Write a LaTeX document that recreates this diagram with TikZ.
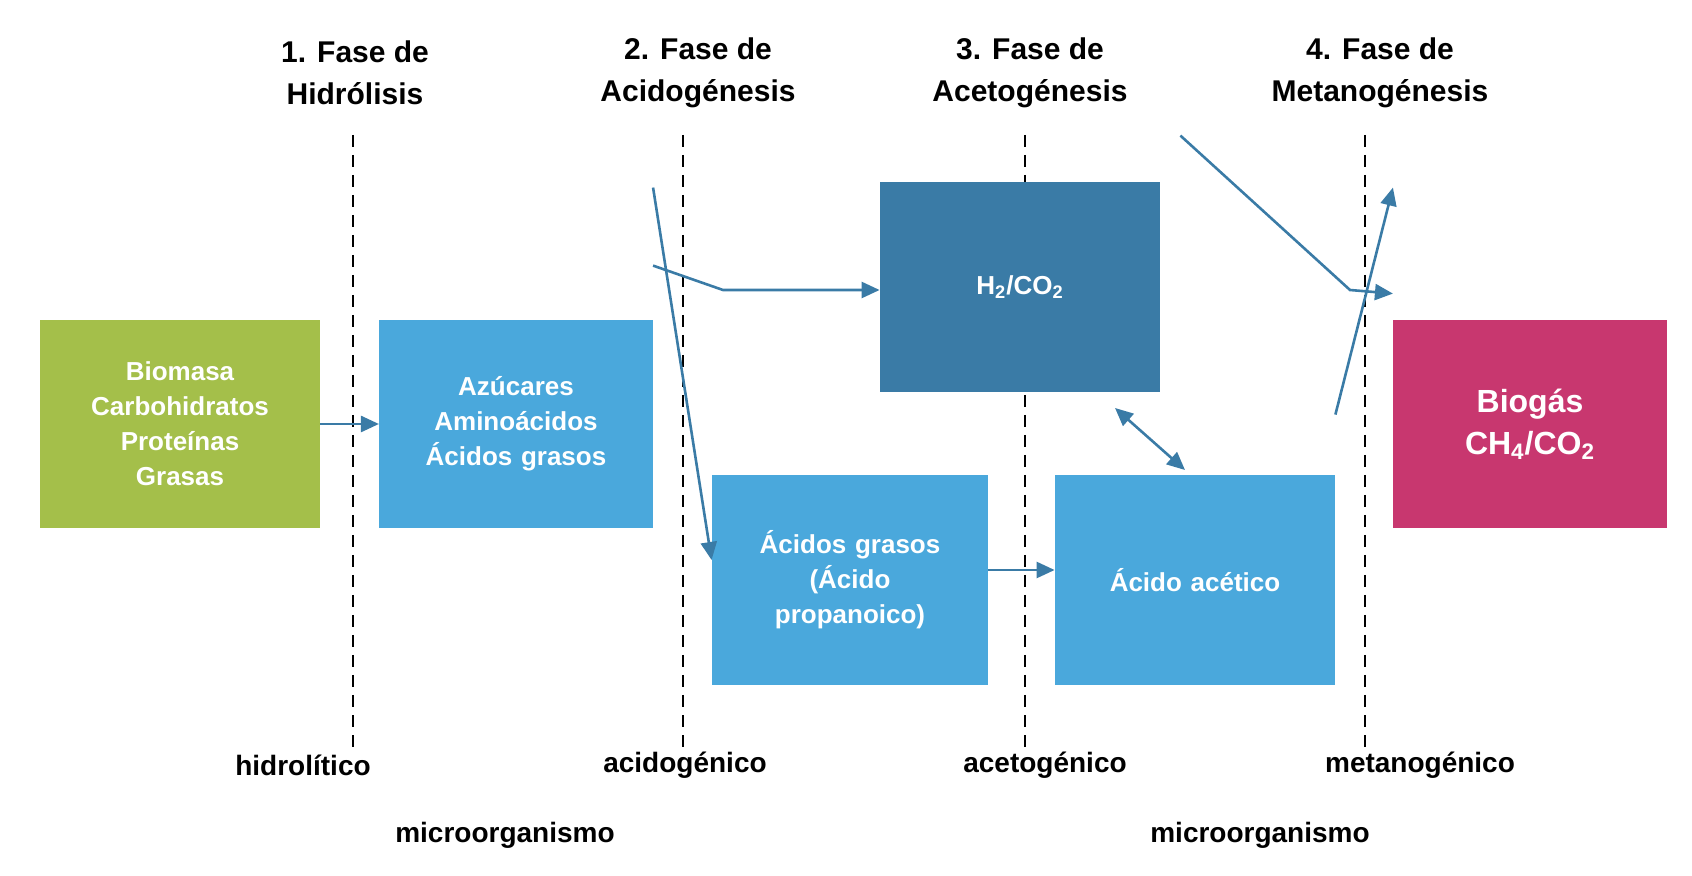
\documentclass[tikz,border=0pt]{standalone}
\usepackage{fontspec}
\setmainfont{Liberation Sans}
\usetikzlibrary{arrows.meta}
\definecolor{verde}{HTML}{A4BF4A}
\definecolor{celeste}{HTML}{4AA8DC}
\definecolor{azul}{HTML}{3A7BA6}
\definecolor{magenta}{HTML}{C8376F}
\tikzset{
  caja/.style={draw=none,minimum width=140pt,minimum height=104pt,text width=130pt,align=center,
    text=white,font=\fontsize{13}{17.5}\selectfont\bfseries},
  flecha/.style={draw=azul,line width=1.3pt,-{Triangle[length=9pt,width=8pt]}},
  fase/.style={align=center,font=\fontsize{15}{21}\selectfont\bfseries},
  micro/.style={font=\fontsize{14}{17}\selectfont\bfseries},
}
\begin{document}
\begin{tikzpicture}[x=0.5pt,y=0.5pt,yscale=-1]
\useasboundingbox (0,0) rectangle (1692,876);

% fases
\node[fase] (f1) at (355,73) {1. Fase de\\Hidrólisis};
\node[fase] (f2) at (698,73) {2. Fase de\\Acidogénesis};
\node[fase] (f3) at (1030,73) {3. Fase de\\Acetogénesis};
\node[fase] (f4) at (1380,73) {4. Fase de\\Metanogénesis};

% separadores
\foreach \x in {353,683,1025,1365}
  \draw[line width=1.2pt,dash pattern=on 6pt off 4pt] (\x,135) -- (\x,752);

% cajas
\node[caja,fill=verde,minimum width=140pt] (bio) at (180,424) {Biomasa\\Carbohidratos\\Proteínas\\Grasas};
\node[caja,fill=celeste,minimum width=131pt] (azu) at (516,424) {Azúcares\\Aminoácidos\\Ácidos grasos};
\node[caja,fill=azul,minimum width=140pt,minimum height=105pt] (hco) at (1020,287) {H\textsubscript{2}/CO\textsubscript{2}};
\node[caja,fill=celeste,minimum width=138pt,minimum height=105pt] (acg) at (850,580) {Ácidos grasos\\(Ácido\\propanoico)};
\node[caja,fill=celeste,minimum width=140pt,minimum height=105pt] (ace) at (1195,580) {Ácido acético};
\node[caja,fill=magenta,minimum width=134pt,font=\fontsize{16}{21}\selectfont\bfseries] (gas) at (1530,424) {Biogás\\CH\textsubscript{4}/CO\textsubscript{2}};

% microorganismos
\node[micro] (m1) at (303,765) {hidrolítico};
\node[micro] (m2) at (685,765) {acidogénico};
\node[micro] (m3) at (1045,765) {acetogénico};
\node[micro] (m4) at (1420,765) {metanogénico};
\node[micro] (mo1) at (505,835) {microorganismo};
\node[micro] (mo2) at (1260,835) {microorganismo};

% flechas
\draw[flecha] (bio.east) -- (azu.west);
\draw[flecha] ([yshift=-27pt]azu.north east) -- (723,290) -- (hco.west |- 0,290);
\draw[flecha] ([yshift=-66pt]azu.north east) -- (acg.west |- 0,560);
\draw[flecha] (acg.east |- 0,570) -- (ace.west |- 0,570);
\draw[flecha] ([xshift=10pt,yshift=-23pt]hco.north east) -- (1350,290) -- ([yshift=-13pt]gas.north west);
\draw[flecha] ([yshift=-30pt]ace.north east) -- ([yshift=-66pt]gas.north west);
\draw[flecha,{Triangle[length=9pt,width=8pt]}-{Triangle[length=9pt,width=8pt]}] (1115,408) -- (1185,470);
\end{tikzpicture}
\end{document}
